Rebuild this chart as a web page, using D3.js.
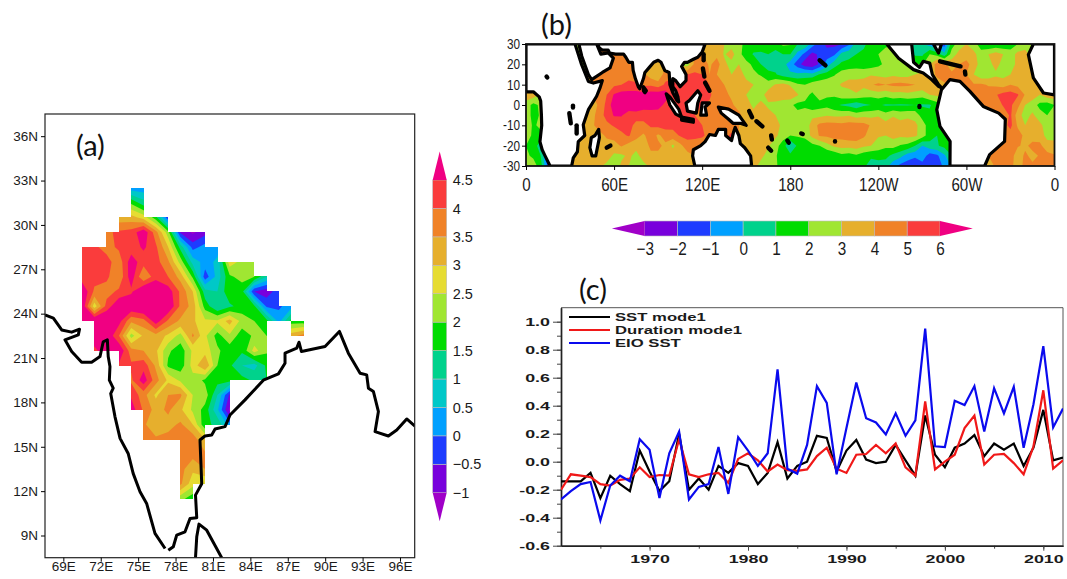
<!DOCTYPE html>
<html>
<head>
<meta charset="utf-8">
<script src="https://cdn.jsdelivr.net/npm/d3@7"></script>
<style>
  html, body { margin: 0; padding: 0; background: #fff; }
  svg { display: block; }
  text { font-family: "Liberation Sans", sans-serif; fill: #1a1a1a; }
</style>
</head>
<body>
<div id="chart"></div>
<script>
var _ = null;

// (a) trend over India, values on grid nodes, 70.5E.. / 32.5N.. at 1 degree steps
var indiaRows = [
  [_,_,_,_,0.2,0.2,_,_,_,_,_,_,_,_,_,_,_,_,_],
  [_,_,_,_,1.9,1.2,_,_,_,_,_,_,_,_,_,_,_,_,_],
  [_,_,_,3.2,3.2,2.8,1.7,-0.4,_,_,_,_,_,_,_,_,_,_,_],
  [_,_,3.9,4.1,4.2,4.9,3.7,2.2,-0.6,-1.1,-0.7,_,_,_,_,_,_,_,_],
  [4.1,4.1,3.8,4.1,4.2,4.6,4.1,3.0,1.3,-0.2,0.2,0.3,_,_,_,_,_,_,_],
  [4.2,4.2,4.2,3.7,4.8,4.2,4.2,3.6,2.3,0.8,0.3,0.6,2.8,2.3,2.3,_,_,_,_],
  [4.2,4.2,4.1,3.6,4.8,3.5,4.3,4.0,3.3,1.9,-0.3,0.7,1.9,2.2,2.0,1.0,_,_,_],
  [5.0,3.9,3.8,4.1,4.4,5.2,5.2,4.8,3.9,3.0,1.2,1.0,1.9,1.7,-0.5,-0.8,-0.2,_,_],
  [5.0,2.7,4.2,5.0,5.0,5.2,5.2,5.0,3.9,3.3,1.8,1.0,1.4,1.7,1.6,-0.1,-0.1,0.3,_],
  [5.2,5.2,5.2,4.7,3.6,3.8,4.8,3.9,3.4,3.1,2.6,2.6,3.2,2.3,2.0,1.7,0.3,1.7,1.7],
  [_,5.0,5.0,4.0,2.3,3.1,3.3,2.9,2.3,3.6,2.6,1.8,2.4,1.7,2.1,2.0,_,3.3,3.7],
  [_,4.3,5.0,5.0,3.7,3.5,3.1,2.1,1.7,2.6,2.8,2.1,1.7,1.6,2.7,2.1,_,_,_],
  [_,_,_,4.4,4.1,4.3,3.4,1.9,1.7,2.7,3.5,2.0,1.6,1.0,0.8,1.6,_,_,_],
  [_,_,_,_,3.9,4.8,3.7,2.9,2.4,2.3,1.9,1.7,1.7,1.7,1.4,1.5,_,_,_],
  [_,_,_,_,4.4,3.7,2.9,3.5,3.6,2.5,2.3,1.0,-0.6,_,_,_,_,_,_],
  [_,_,_,_,4.8,3.9,3.3,3.6,3.1,2.4,1.8,0.6,-1.1,_,_,_,_,_,_],
  [_,_,_,_,_,3.6,3.1,3.3,3.6,3.0,1.6,1.4,0.2,_,_,_,_,_,_],
  [_,_,_,_,_,3.6,3.6,3.7,3.7,3.8,3.0,_,_,_,_,_,_,_,_],
  [_,_,_,_,_,_,_,_,3.7,3.7,3.6,_,_,_,_,_,_,_,_],
  [_,_,_,_,_,_,_,_,3.7,3.1,3.5,_,_,_,_,_,_,_,_],
  [_,_,_,_,_,_,_,_,3.6,2.7,2.5,_,_,_,_,_,_,_,_],
  [_,_,_,_,_,_,_,_,2.2,1.7,_,_,_,_,_,_,_,_,_]
];

// (b) tropical SST field, 0..360 by 5 degrees, rows 30N to 30S by 5 degrees
var sstRows = [
  [_,_,_,_,_,_,_,_,_,_,_,_, _,_,_,_,_,_,_,_,_,_,_,_, _,3.5,3.2,3,2.6,2.3,1.7,1.5,1.6,1.7,1.6,2.2, 2.1,1,.9,-.5,-1.5,-2.3,-2.3,-2,-1.2,.5,.9,1.2, 1.8,1.9,_,_,_,.3,0,-.5,-1,-1.5,1.5,2.5, 3,2.6,1.2,1,1.2,1.1,1.4,2,2.5,3,_,_, _],
  [_,_,_,_,_,_,_,2.5,_,_,_,4, 4.5,4.2,_,_,_,_,_,_,_,_,_,_, 4,3.4,3.7,2.9,3.4,2.3,1.5,.9,.8,1,.6,1, 1,-.3,-1.3,-2.3,-1.8,-1.5,-1.2,.3,.7,1,1.1,1.6, 2,2.2,_,_,_,.8,.8,2,1.5,.3,2.5,3.3, 3.7,3.2,2.6,3,3.4,3,2.5,3.3,3.4,2.6,_,_, _],
  [_,_,_,_,_,_,_,_,2.5,_,_,4.5, 4.7,4.5,4.2,_,_,3.6,3.4,_,_,_,2.5,4.3, 4.8,3.8,4.5,3.2,2.7,3,2.3,1.8,1,.7,.6,.4, -.5,-1.5,-2.6,-2.8,-1.8,-.5,.6,1.2,1.3,1.6,1.3,1.5, 1.8,2.2,2.6,2.6,2.6,_,_,3,4.5,4.2,3.5,4, 4.2,3.7,2.4,2.6,3.4,2.6,2.5,3.3,3.4,_,_,_, _],
  [_,_,_,_,_,_,_,_,_,_,4.3,4.6, 4.6,4.7,4.7,4.4,_,3.5,3.2,4.5,_,_,5,5.2, 5,4,4,3.6,3,3.5,2.7,2.2,1.9,1.2,1.1,.5, .2,.2,.5,.3,1.1,1.4,1.9,2.5,2.8,2.6,2.8,2.9, 2.7,2.6,2.8,2.6,2.6,3,_,_,4.2,4.3,4.2,4, 4,3,2.2,2.4,2.8,2.7,3,3.3,3,3.2,_,_, _],
  [_,_,_,_,_,_,_,_,_,_,_,4.5, 4.8,5,5.2,5.2,4.8,4.8,4.4,5.2,5.2,5.2,5.2,5.3, 5,5,4.4,4,3.5,3.4,3.3,3,2.8,2.5,3.1,3.3, 2.9,2.2,2,2.6,2.6,2.8,2.7,3.1,3.2,3.4,3.3,3.9, 4.2,4,4.2,4.3,4.2,4,3.7,3.2,3.5,_,_,_, _,4.1,4.2,3.9,3.8,3.5,4,3.7,3.4,3.4,_,_, _],
  [3.7,3.5,_,_,_,_,_,_,_,_,4.4,5, 6.1,6.5,6.5,6.5,6.4,6.6,6.7,6.6,5.5,5.2,5,5, 5,5.2,4.4,4.3,3.8,3.2,3,2.2,2.6,3.5,3.8,3.5, 3.7,3.1,2.3,1.8,2.5,2.1,2.2,2.6,2.7,2.9,2.4,2.3, 2.5,2.3,2.6,2.5,2.7,2.5,2.4,3,3.2,_,_,_, _,_,4.2,4.5,4.9,5.4,5.5,5.1,3.9,3.5,3,3.6, 3.7],
  [2.5,1.7,2.2,_,_,_,_,_,_,3.5,4.2,5.3, 6.6,6.9,6.9,6.7,6.6,6.5,6.5,5.7,5.5,5.2,5,5, 5,4.8,4.5,4.3,4.2,3.5,3.4,2.8,3.3,2.8,2.6,2.5, 2.2,1.7,1.8,1.2,1.6,1.7,1.2,.9,.7,.3,.8,1, 1.1,.9,.9,.9,.9,1,.9,.9,1.5,_,_,_, _,_,_,_,4.3,5.1,5.2,4.3,3,2.5,1.7,1.5, 2],
  [2.5,1.7,2.1,_,_,_,_,_,_,3.6,4.6,5.3, 6.1,6.1,5.4,5.6,5.3,5.5,5.4,5.6,5.5,5.5,5,5, 4.8,4.7,4.7,4.5,4.5,4.3,3.4,3.3,4,3.4,3,2.4, 2.5,2.3,2.5,2.8,2.7,2.9,2.8,2.8,2.9,2.5,2.7,2.7, 2.9,2.4,2.9,2.6,2.8,2.7,1.5,1.2,1,_,_,_, _,_,_,_,_,4.2,5.2,3.4,2.6,3.2,2.4,2, 2.5],
  [2.8,1.8,2.3,_,_,_,_,_,3,3.8,4.5,4.8, 5.1,5.3,5.5,4.6,4.8,5.1,5.3,5.4,5.3,5.4,5.4,5, 5,4.7,4.5,4.3,4.3,4,3.4,3.5,3.6,3.9,3.3,2.8, 2.6,2.7,2.4,3.4,4.3,4.4,4.4,4.3,4.5,4.5,4.4,3.9, 3.6,3.4,3.5,3.4,3.4,3.2,2.6,1.3,1.1,_,_,_, _,_,_,_,_,_,5.3,3.8,3,3.1,3.3,2.4, 2.6],
  [2.7,1.7,1.6,.5,_,_,_,_,3.5,_,3.6,4.2, 4.4,4.8,5.1,4.4,3.8,4.6,3.8,4.4,4.6,5.1,5.3,5.3, _,_,_,4.5,5.3,4,3.6,3.6,3.8,3.6,3.2,2.5, 2,2.1,2.3,3.3,4.1,4.2,4.4,4.4,4.6,4.6,4.2,3.4, 3.1,3,3.3,3.2,3.3,3.2,2.5,1.4,1,1,_,_, _,_,_,_,_,4.2,4.5,4.5,3.7,3.5,3.6,2.6, 2.7],
  [2,1.5,.5,-1,_,_,_,_,3.7,3.4,3.6,3.5, 3.6,4.1,3.6,3.3,3.5,4.2,4.2,3.8,2.8,3.7,4.6,4.4, _,_,_,_,_,_,_,3.6,3.4,3.1,2.4,1.5, 0,1.2,1.3,1.7,2,2.6,3.2,3.4,3.4,3.5,3.2,3, 2.5,2.2,2.4,1.9,1.7,1,0,.7,.9,1.3,_,_, _,_,_,_,4,4.2,4.5,4.1,3.8,4.3,4.2,3.5, 3.3],
  [2.2,1.8,1,-1.5,_,_,_,3.3,3.5,_,3.5,3.5, 2.8,2.8,3.2,2.7,3.4,3.8,3.8,3.5,3.5,3.4,3.6,_, _,_,_,_,_,_,_,3.3,3.2,2.7,2.1,1.5, 1.3,1.5,1.1,1.4,1.7,1.1,1.2,1.7,1.5,1.8,1.4,1.2, 1.4,1.3,.7,.3,-.5,-.7,-.3,-1.6,-1.2,-.2,1,_, _,_,_,4,4.3,4.2,4.5,3.4,4.2,3.7,4.1,4.3, 4.1],
  [2.8,2.5,1.5,-1.5,_,_,_,3.4,3.6,3.6,3.2,2.7, 2.3,3.2,3,2.5,2.7,3.2,3.5,3.4,3.5,3.3,3.5,_, _,_,_,_,_,_,_,3.3,2.7,2.5,2.1,1.7, 1.5,1.6,1.5,1.4,1.2,1.1,1.4,1.7,1.1,1.6,1.2,.5, .5,.4,-.6,-1.3,-1.6,-2.2,-1.5,-1.8,-1.7,-.7,_,_, _,_,_,3,4.3,4.4,4.3,3.5,4.3,4.2,4.1,4.3, 4.2]
];

// colour levels, grads palette
var levelsA = [-1,-0.5,0,0.5,1,1.5,2,2.5,3,3.5,4,4.5];
var coloursA = ["#a000c8","#7800dc","#1e3cff","#00a0ff","#00c8c8","#00d28c","#00dc00","#a0e632","#e6dc32","#e6af2d","#f08228","#fa3c3c","#f00082"];
var levelsB = [-3,-2,-1,0,1,2,3,4,5,6];
var coloursB = ["#a000c8","#7800dc","#1e3cff","#00a0ff","#00d28c","#00dc00","#a0e632","#e6af2d","#f08228","#fa3c3c","#f00082"];

// coastlines of (a), [lon, lat]
var indiaWest = [[67.53,23.92],[68.2,23.7],[68.87,22.9],[69.67,22.75],[70.3,22.95],[70.2,22.57],[69.13,22.23],[69.67,21.44],[70.47,20.72],[71.27,20.72],[71.94,21.1],[72.2,22.1],[72.53,22.23],[72.6,21.1],[72.74,20.42],[72.69,19.5],[73,18.96],[72.8,18.6],[73.14,17.04],[73.55,15.57],[74.2,14.55],[74.6,13.2],[75.15,11.96],[75.68,11.17],[76.35,9.14],[77.16,8.12]];
var indiaEast = [[77.42,8],[77.82,8.24],[78.09,9.02],[78.76,9.25],[79.16,10.15],[79.7,10.2],[79.6,11.73],[80.1,12.5],[79.96,15.46],[80.36,15.73],[80.9,15.8],[81.17,16.2],[81.97,16.36],[82.37,17.15],[83.57,18.17],[85.04,19.5],[86.25,19.93],[86.78,20.65],[86.78,21.33],[87.72,21.67],[87.9,22.07],[88.1,21.44],[89.99,21.78],[91.14,22.8],[91.86,21.33],[92.8,19.97],[93.33,19.86],[93.47,18.96],[93.87,18.73],[94.27,17.38],[94,16.02],[95.07,15.73],[95.74,16.14],[96.54,16.88],[97.2,16.4]];
var sriLanka = [[79.6,7.5],[79.7,8.91],[79.88,9.77],[80.5,9.36],[81.7,7.5]];

// land outlines of (b), [lon, lat]
var landB = [
  [[0,30],[33.4,30],[37.9,19.8],[42.5,11.6],[45.9,10.8],[52,12],[50.4,8.4],[48.1,4.3],[42.5,-2.3],[39,-9.7],[40,-15],[35.6,-18],[35,-23],[32.2,-26],[31.1,-30],[16.4,-30],[13,-25],[11,-22],[9.5,-18],[10.7,-10],[10.5,-5],[10,2],[9,4],[5,6.5],[0,6.5]],
  [[36,30],[38,24],[42.5,15],[44.7,12.5],[52,16],[57.2,18.2],[59.5,23],[56,25.6],[51,25],[48.1,30]],
  [[48.5,30],[50,28],[52,27],[56,27],[57,25.5],[61,25],[66.5,25],[68,23.5],[70,21],[72.5,21],[73,17],[74.5,13],[76.5,9],[77.5,8],[80,13],[81,16],[84,18.5],[87,21],[90,22],[92,21],[94.5,17],[96,16.5],[97.5,16],[98,10],[100,6],[103,2],[104,1.5],[103.5,4],[102,7],[100,9],[100,13],[102,12],[105,9],[107,10.5],[109,12],[109,15],[106,19],[108,21],[110,21],[114,22.5],[117,23.5],[120,26],[122,30]],
  [[115,-30],[113.5,-25],[114,-22],[119,-20],[122,-18],[125,-14.5],[129,-15],[131,-12],[136,-12],[136,-15],[140,-17.5],[141.5,-13],[142.5,-11],[145,-15],[146,-19],[149,-21],[153,-25],[153.7,-30]],
  [[49.5,-12],[50,-16],[47.5,-25],[45,-25],[43.5,-21],[44.5,-16],[47,-15]],
  [[95.5,5.5],[98,4],[104,-2],[106,-6],[102,-4.5],[98,0]],
  [[106,-6],[114,-7],[114,-8.5],[106,-7.5]],
  [[109,1],[111,2],[117,7],[119,5],[117,1],[116,-4],[110,-3]],
  [[119,-5],[120,1],[125,1],[122,-1],[123,-5]],
  [[131,-1],[138,-2],[145,-5],[150,-10],[146,-9],[141,-9],[138,-7],[133,-4]],
  [[80,9],[82,7],[81,6],[80,7]],
  [[245.7,30],[253.8,23],[264,17.4],[270.6,15.7],[276.3,12.5],[281,9.2],[283,8.5],[281,10],[276.8,15],[275,20.6],[270.6,21.5],[268,18.5],[264,21],[262.7,30]],
  [[277.5,30],[281,25.6],[283,30]],
  [[288.8,12.5],[283,7.5],[279.8,-2.3],[282,-10.5],[288.9,-17.9],[288.8,-30],[312.4,-30],[315.8,-24.4],[326,-17.9],[326.5,-7],[322,-4],[311.5,-.7],[302.4,6.7],[295.6,11.6]],
  [[345.6,30],[342.2,24.8],[345.6,13.3],[352.5,5.9],[360,5],[360,30]]
];
// islands and lakes, thick black strokes
var islandsB = [
  [[14,14],[14.5,13.5]],[[32,-.3],[32,-1.2]],[[29.5,-4],[30.5,-9]],[[34.5,-10],[34.5,-14]],[[55,-21],[57.5,-20]],
  [[120.5,18],[121.5,14]],[[122,11],[125,7]],[[121,25],[121,22]],[[152,-3],[154,-6]],[[157,-8],[161,-10.5]],
  [[167,-15],[167.5,-17]],[[165,-21],[167,-22.5]],[[178,-17.5],[179,-18.5]],[[187.5,-14],[188.5,-14.3]],[[210.5,-17.8],[210.5,-18]],
  [[200,22],[204,19.5]],[[268,-.5],[268,-1]],[[282,21.5],[296,19]],[[299,16.5],[299.3,15]]
];

// (c) time series, yearly 1961-2012
var years = d3.range(1961, 2013);
var sstMode = [-.14,-.14,-.14,-.08,-.26,-.10,-.16,-.21,.08,-.07,-.21,-.14,.20,-.20,-.12,-.20,-.03,-.08,-.01,-.03,-.16,-.08,.14,-.12,-.03,0,.185,.17,-.07,.08,.155,.015,-.01,0,.12,.01,-.10,.33,.05,-.04,.10,.13,.19,.04,.13,.085,.13,-.03,.10,.37,.01,.03];
var durationMode = [-.20,-.09,-.10,-.11,-.16,-.17,-.13,-.12,-.04,-.11,-.095,-.10,.16,-.09,-.11,-.09,-.08,-.15,.02,.06,.01,-.07,-.02,-.06,-.065,-.055,.04,.10,-.05,-.08,.05,.055,.12,.06,.13,-.04,-.10,.43,-.055,0,.05,.24,.33,-.02,.05,.055,-.01,-.09,.11,.51,-.05,.01];
var eioSst = [-.27,-.21,-.16,-.145,-.42,-.17,-.10,-.14,.16,.085,-.26,.06,.215,-.27,-.18,-.16,.105,-.23,.175,.08,-.03,.06,.66,-.05,-.085,.12,.54,.42,-.09,.24,.565,.31,.28,.195,.345,.185,.295,.95,.11,.105,.435,.405,.54,.215,.525,.345,.535,.10,.41,.825,.245,.38];
var seriesNames = ["SST mode1", "Duration mode1", "EIO SST"];
var seriesColours = ["#000000", "#f01818", "#0a0aee"];

var svg = d3.select("#chart").append("svg")
  .attr("width", 1067)
  .attr("height", 579);

function minus(d) { return ("" + d).replace("-", "\u2212"); }

// squeeze or stretch axis text sideways
function stretch(sel, k) {
  sel.each(function() {
    this.setAttribute("textLength", this.getComputedTextLength() * k);
    this.setAttribute("lengthAdjust", "spacingAndGlyphs");
  });
}

// fill the undefined nodes from their neighbours so contours can close, the clip hides them
function fillGaps(rows) {
  var grid = rows.map(function(r) { return r.slice(); });
  var missing = true;
  while (missing) {
    missing = false;
    var next = grid.map(function(r) { return r.slice(); });
    grid.forEach(function(r, j) {
      r.forEach(function(v, i) {
        if (v !== null) return;
        var around = [[i-1,j],[i+1,j],[i,j-1],[i,j+1]]
          .map(function(p) { return grid[p[1]] ? grid[p[1]][p[0]] : undefined; })
          .filter(function(a) { return a !== null && a !== undefined; });
        if (around.length) next[j][i] = d3.mean(around);
        else missing = true;
      });
    });
    grid = next;
  }
  return grid;
}

function drawField(g, rows, thresholds, colours, colX, rowY) {
  var grid = fillGaps(rows);
  var nx = grid[0].length, ny = grid.length;
  var contours = d3.contours().size([nx, ny]).thresholds(thresholds)(d3.merge(grid));
  var path = d3.geoPath(d3.geoTransform({
    point: function(x, y) { this.stream.point(colX(x - 0.5), rowY(y - 0.5)); }
  }));
  g.style("filter", "blur(0.5px)");
  g.append("rect")
    .attr("x", colX(-0.5)).attr("y", rowY(-0.5))
    .attr("width", colX(nx - 0.5) - colX(-0.5))
    .attr("height", rowY(ny - 0.5) - rowY(-0.5))
    .attr("fill", colours[0]);
  g.selectAll("path.band")
    .data(contours)
    .enter().append("path")
    .attr("class", "band")
    .attr("d", path)
    .attr("fill", function(d, i) { return colours[i + 1]; });
}

function panelLetter(text, x, y) {
  svg.append("text").attr("x", x).attr("y", y).text(text)
    .style("font-family", "Lato, sans-serif")
    .style("font-size", "29px")
    .style("fill", "#111");
}

// ---------- panel (a) ----------
var xA = d3.scaleLinear().domain([67.53, 97.18]).range([45, 414.7]);
var yA = d3.scaleLinear().domain([7.5, 37.5]).range([557.7, 114]);

var colA = d3.scaleLinear().domain([0, 18]).range([xA(70.5), xA(88.26)]);
var rowA = d3.scaleLinear().domain([0, 21]).range([yA(32.5), yA(11.5)]);

// only the boxes with all four corners defined get shaded
var boxes = [];
indiaRows.forEach(function(r, j) {
  r.forEach(function(v, i) {
    if (j + 1 < indiaRows.length && i + 1 < r.length && v !== null && r[i + 1] !== null &&
        indiaRows[j + 1][i] !== null && indiaRows[j + 1][i + 1] !== null) boxes.push([i, j]);
  });
});
svg.append("clipPath").attr("id", "maskA")
  .selectAll("rect").data(boxes).enter().append("rect")
  .attr("x", function(d) { return colA(d[0]) - 0.2; })
  .attr("y", function(d) { return rowA(d[1]) - 0.2; })
  .attr("width", colA(1) - colA(0) + 0.4)
  .attr("height", rowA(1) - rowA(0) + 0.4)
  .attr("shape-rendering", "crispEdges");

var fieldA = svg.append("g").attr("clip-path", "url(#maskA)").append("g");
drawField(fieldA, indiaRows, levelsA, coloursA, colA, rowA);

svg.append("clipPath").attr("id", "frameA").append("rect")
  .attr("x", 45).attr("y", 114).attr("width", 369.7).attr("height", 443.7);

var coastLineA = d3.line().x(function(d) { return xA(d[0]); }).y(function(d) { return yA(d[1]); });
svg.append("g").attr("clip-path", "url(#frameA)")
  .selectAll("path").data([indiaWest, indiaEast, sriLanka]).enter().append("path")
  .attr("d", coastLineA)
  .attr("fill", "none")
  .attr("stroke", "#000")
  .attr("stroke-width", 3)
  .attr("stroke-linejoin", "round");

svg.append("rect").attr("x", 45).attr("y", 114).attr("width", 369.7).attr("height", 443.7)
  .attr("fill", "none").attr("stroke", "#222").attr("stroke-width", 1.2);

var xAxisA = d3.axisBottom(xA).tickValues(d3.range(69, 97, 3))
  .tickFormat(function(d) { return d + "E"; }).tickSize(4).tickSizeOuter(0);
var yAxisA = d3.axisLeft(yA).tickValues(d3.range(9, 37, 3))
  .tickFormat(function(d) { return d + "N"; }).tickSize(4).tickSizeOuter(0);

var gxA = svg.append("g").attr("transform", "translate(0,557.7)").call(xAxisA);
var gyA = svg.append("g").attr("transform", "translate(45,0)").call(yAxisA);
[gxA, gyA].forEach(function(ax) {
  ax.select(".domain").remove();
  ax.selectAll("text").style("font-size", "13.5px");
});
gxA.selectAll("text").attr("y", 3).attr("dy", "0.8em");

// colour bar of (a), arrows run one step past the ends
var barA = d3.scaleLinear().domain([-1, 4.5]).range([492.7, 180]);
var barAG = svg.append("g");
barAG.selectAll("rect").data(d3.pairs(levelsA)).enter().append("rect")
  .attr("x", 432.7).attr("width", 14)
  .attr("y", function(d) { return barA(d[1]); })
  .attr("height", function(d) { return barA(d[0]) - barA(d[1]); })
  .attr("fill", function(d, i) { return coloursA[i + 1]; })
  .attr("stroke", "#bbb").attr("stroke-width", 0.6);
barAG.append("path")
  .attr("d", d3.line()([[432.7, barA(4.5)], [439.7, barA(5)], [446.7, barA(4.5)]]) + "Z")
  .attr("fill", coloursA[12]);
barAG.append("path")
  .attr("d", d3.line()([[432.7, barA(-1)], [439.7, barA(-1.5)], [446.7, barA(-1)]]) + "Z")
  .attr("fill", coloursA[0]);
var barAxisA = svg.append("g").attr("transform", "translate(446.7,0)")
  .call(d3.axisRight(barA).tickValues(levelsA).tickFormat(minus).tickSize(0).tickPadding(6));
barAxisA.select(".domain").remove();
barAxisA.selectAll("text").style("font-size", "14.5px");

panelLetter("(a)", 76, 156);

// ---------- panel (b) ----------
var xB = d3.scaleLinear().domain([0, 360]).range([526, 1054.5]);
var yB = d3.scaleLinear().domain([-30, 30]).range([166, 44]);

var colB = d3.scaleLinear().domain([0, 72]).range([xB(0), xB(360)]);
var rowB = d3.scaleLinear().domain([0, 12]).range([yB(30), yB(-30)]);

svg.append("clipPath").attr("id", "frameB").append("rect")
  .attr("x", 526).attr("y", 44).attr("width", 528.5).attr("height", 122);

var mapB = svg.append("g").attr("clip-path", "url(#frameB)");
drawField(mapB.append("g"), sstRows, levelsB, coloursB, colB, rowB);

var coastLineB = d3.line().x(function(d) { return xB(d[0]); }).y(function(d) { return yB(d[1]); });
mapB.append("g").selectAll("path").data(landB).enter().append("path")
  .attr("d", function(d) { return coastLineB(d) + "Z"; })
  .attr("fill", "#fff")
  .attr("stroke", "#000")
  .attr("stroke-width", 3.2)
  .attr("stroke-linejoin", "round");
mapB.append("g").selectAll("path").data(islandsB).enter().append("path")
  .attr("d", coastLineB)
  .attr("fill", "none")
  .attr("stroke", "#000")
  .attr("stroke-width", 4.4)
  .attr("stroke-linecap", "round");

svg.append("rect").attr("x", 526).attr("y", 44).attr("width", 528.5).attr("height", 122)
  .attr("fill", "none").attr("stroke", "#111").attr("stroke-width", 1.8);

var xTicksB = [0, 60, 120, 180, 240, 300, 360];
var xLabelsB = ["0", "60E", "120E", "180", "120W", "60W", "0"];
var gxB = svg.append("g").attr("transform", "translate(0,166)")
  .call(d3.axisBottom(xB).tickValues(xTicksB)
    .tickFormat(function(d, i) { return xLabelsB[i]; }).tickSize(4).tickSizeOuter(0));
var gyB = svg.append("g").attr("transform", "translate(526,0)")
  .call(d3.axisLeft(yB).tickValues(d3.range(-30, 31, 10)).tickSize(4).tickSizeOuter(0)
    .tickFormat(function(d) { return "" + d; }));
gxB.select(".domain").remove();
gyB.select(".domain").remove();
gxB.selectAll("text").style("font-size", "18px").attr("dy", "1em").call(stretch, 0.84);
gyB.selectAll("text").style("font-size", "14px").attr("dx", "1px").call(stretch, 0.84);

// colour bar of (b)
var barB = d3.scaleLinear().domain([-3, 6]).range([644.7, 940]);
var barBG = svg.append("g");
barBG.selectAll("rect").data(d3.pairs(levelsB)).enter().append("rect")
  .attr("x", function(d) { return barB(d[0]); })
  .attr("width", function(d) { return barB(d[1]) - barB(d[0]); })
  .attr("y", 221).attr("height", 15)
  .attr("fill", function(d, i) { return coloursB[i + 1]; })
  .attr("stroke", "#bbb").attr("stroke-width", 0.6);
barBG.append("path")
  .attr("d", d3.line()([[barB(-3), 221], [barB(-4), 228.5], [barB(-3), 236]]) + "Z")
  .attr("fill", coloursB[0]);
barBG.append("path")
  .attr("d", d3.line()([[barB(6), 221], [barB(7), 228.5], [barB(6), 236]]) + "Z")
  .attr("fill", coloursB[10]);
var barAxisB = svg.append("g").attr("transform", "translate(0,238)")
  .call(d3.axisBottom(barB).tickValues(levelsB).tickFormat(minus).tickSize(0).tickPadding(4));
barAxisB.select(".domain").remove();
barAxisB.selectAll("text").style("font-size", "18px").call(stretch, 0.85);

panelLetter("(b)", 541, 35);

// ---------- panel (c) ----------
var xC = d3.scaleLinear().domain([1961, 2012]).range([561, 1063]);
var yC = d3.scaleLinear().domain([-0.6, 1.1]).range([545.7, 307.7]);

svg.append("path")
  .attr("d", d3.line()([[561, 307.7], [1063, 307.7], [1063, 545.7]]))
  .attr("fill", "none").attr("stroke", "#555").attr("stroke-width", 1);

var yMinor = svg.append("g").attr("transform", "translate(561,0)")
  .call(d3.axisLeft(yC).tickValues(d3.range(-6, 11).map(function(d) { return d / 10; }))
    .tickSize(4).tickSizeOuter(0).tickFormat(""));
var yMajor = svg.append("g").attr("transform", "translate(561,0)")
  .call(d3.axisLeft(yC).tickValues(d3.range(-3, 6).map(function(d) { return d / 5; }))
    .tickSize(8).tickSizeOuter(0).tickFormat(function(d) { return d.toFixed(1); }));
var xMinor = svg.append("g").attr("transform", "translate(0,545.7)")
  .call(d3.axisBottom(xC).tickValues(d3.range(1965, 2012, 5)).tickSize(3).tickSizeOuter(0).tickFormat(""));
var xMajor = svg.append("g").attr("transform", "translate(0,545.7)")
  .call(d3.axisBottom(xC).tickValues(d3.range(1970, 2011, 10)).tickSize(5).tickSizeOuter(0).tickFormat(d3.format("d")));

[yMinor, yMajor, xMinor, xMajor].forEach(function(ax) {
  ax.selectAll("line").attr("stroke", "#444");
  ax.select(".domain").attr("stroke", "#222").attr("stroke-width", 1.4);
  ax.selectAll("text").style("font-size", "11.5px").style("font-weight", "bold").call(stretch, 1.55);
});
xMajor.selectAll("text").attr("dy", "0.85em");

var lineC = d3.line()
  .x(function(d) { return xC(d[0]); })
  .y(function(d) { return yC(d[1]); });

svg.append("clipPath").attr("id", "frameC").append("rect")
  .attr("x", 561).attr("y", 307).attr("width", 502).attr("height", 239);

var allSeries = [sstMode, durationMode, eioSst];
svg.append("g").attr("clip-path", "url(#frameC)")
  .selectAll("path").data(allSeries).enter().append("path")
  .attr("d", function(vals) { return lineC(d3.zip(years, vals)); })
  .attr("fill", "none")
  .attr("stroke", function(d, i) { return seriesColours[i]; })
  .attr("stroke-width", 2.2)
  .attr("stroke-linejoin", "miter");

var legendC = svg.append("g").selectAll("g").data(seriesNames).enter().append("g")
  .attr("transform", function(d, i) { return "translate(569," + (317 + i * 13) + ")"; });
legendC.append("line").attr("x1", 0).attr("x2", 41)
  .attr("stroke", function(d, i) { return seriesColours[i]; }).attr("stroke-width", 2);
legendC.append("text").attr("x", 46).attr("dy", "0.36em").text(function(d) { return d; })
  .style("font-size", "11.5px").style("font-weight", "bold").call(stretch, 1.45);

panelLetter("(c)", 579, 300);
</script>
</body>
</html>
